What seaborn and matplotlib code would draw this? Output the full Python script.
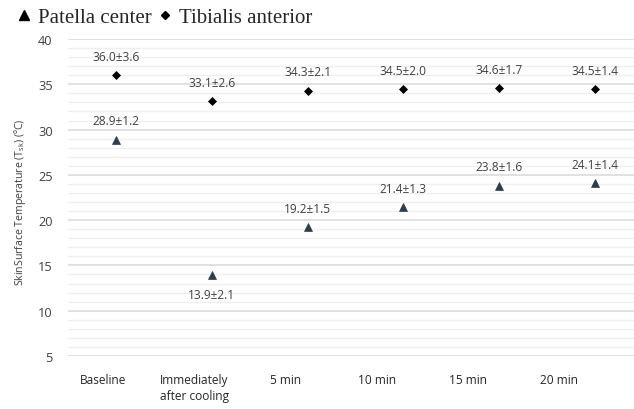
import numpy as np
import pandas as pd
import seaborn as sns
import matplotlib.pyplot as plt
from matplotlib.lines import Line2D

# data
times = ['Baseline', 'Immediately\nafter cooling', '5 min', '10 min', '15 min', '20 min']
patella_mean = [28.9, 13.9, 19.2, 21.4, 23.8, 24.1]
patella_sd = [1.2, 2.1, 1.5, 1.3, 1.6, 1.4]
tibialis_mean = [36.0, 33.1, 34.3, 34.5, 34.6, 34.5]
tibialis_sd = [3.6, 2.6, 2.1, 2.0, 1.7, 1.4]

df = pd.concat([
    pd.DataFrame({'time': times, 'temp': patella_mean, 'sd': patella_sd, 'site': 'Patella center'}),
    pd.DataFrame({'time': times, 'temp': tibialis_mean, 'sd': tibialis_sd, 'site': 'Tibialis anterior'}),
], ignore_index=True)

sns.set_style('white')
plt.rcParams['font.family'] = ['Open Sans', 'DejaVu Sans']

fig = plt.figure(figsize=(6.34, 4.10), dpi=100)
ax = fig.add_axes([68 / 634, 53 / 410, 575 / 634, 317 / 410])

sns.pointplot(data=df, x='time', y='temp', hue='site', order=times,
              markers=['^', 'D'], linestyles='none', errorbar=None,
              palette={'Patella center': '#2e3b4e', 'Tibialis anterior': '#000000'},
              ax=ax, zorder=5)

# shrink the markers to the original's small size
for ln in ax.lines:
    if ln.get_marker() == '^':
        ln.set_markersize(5.5)
    elif ln.get_marker() == 'D':
        ln.set_markersize(3.8)
    ln.set_markeredgewidth(0.5)

# value labels
for i, (m, s) in enumerate(zip(patella_mean, patella_sd)):
    dy = -14 if i == 1 else 13.5
    ax.annotate(f'{m:.1f}±{s:.1f}', (i, m), xytext=(0, dy), textcoords='offset points',
                ha='center', va='center', fontsize=8.6, color='#404040')
for i, (m, s) in enumerate(zip(tibialis_mean, tibialis_sd)):
    ax.annotate(f'{m:.1f}±{s:.1f}', (i, m), xytext=(0, 13.5), textcoords='offset points',
                ha='center', va='center', fontsize=8.6, color='#404040')

ax.set_xlim(-0.5, 5.5)
ax.set_ylim(5, 40)
ax.set_yticks(np.arange(5, 41, 5))
ax.set_yticks(np.arange(5, 41, 1), minor=True)
ax.grid(True, axis='y', which='major', color='#d9d9d9', lw=1.1)
ax.grid(True, axis='y', which='minor', color='#efefef', lw=0.9)
ax.grid(False, axis='x')
ax.set_axisbelow(True)
for sp in ax.spines.values():
    sp.set_visible(False)

# tick labels sit a bit left of the markers in the original
ax.set_xticks(np.arange(len(times)) * 0.95 - 0.13)
ax.set_xticklabels(times, fontsize=8.6, color='#262626', linespacing=1.3)
ax.tick_params(axis='x', length=0, pad=12)
ax.tick_params(axis='y', which='both', length=0, pad=11, labelsize=9.2, labelcolor='#404040')
ax.set_xlabel('')
ax.set_ylabel('SkinSurface Temperature (T$_{\\mathregular{sk}}$) (ºC)', fontsize=7.6, color='#404040')
ax.yaxis.set_label_coords(-0.07, 0.49)

# legend across the top, serif like the original
ax.get_legend().remove()
handles = [Line2D([], [], ls='none', marker='^', color='black', markersize=7.5),
           Line2D([], [], ls='none', marker='D', color='black', markersize=4)]
fig.legend(handles, ['Patella center', 'Tibialis anterior'], loc='upper left',
           bbox_to_anchor=(-0.005, 1.025), ncol=2, frameon=False, handlelength=0.8,
           handletextpad=0.3, columnspacing=0.2, prop={'family': 'Liberation Serif', 'size': 15})

fig.savefig('out.png', dpi=100)
